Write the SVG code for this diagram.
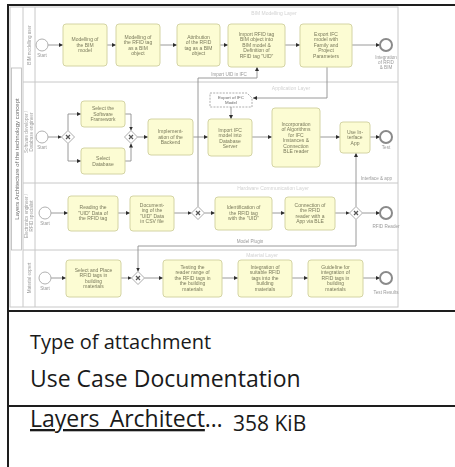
<svg xmlns="http://www.w3.org/2000/svg" width="455" height="467" viewBox="0 0 455 467">
  <style>
    .task { fill: #fcfcd3; stroke: #d4d4a4; stroke-width: 1; }
    .tt { font-family: "Liberation Sans", Arial, sans-serif; font-size: 5px; fill: #7a7a5c; text-anchor: middle; }
    .lbl { font-family: "Liberation Sans", Arial, sans-serif; font-size: 4.6px; fill: #9a9a9a; text-anchor: middle; }
    .ttl { font-family: "Liberation Sans", Arial, sans-serif; font-size: 5px; fill: #d2d2d2; text-anchor: middle; }
    .lane { stroke: #c8c8c8; stroke-width: 1; fill: none; }
    .flow { fill: none; stroke: #8e8e8e; stroke-width: 0.9; marker-end: url(#arr); }
    .start { fill: #fff; stroke: #a8a8a8; stroke-width: 0.9; }
    .end { fill: #fff; stroke: #8a8a8a; stroke-width: 2; }
    .gw { fill: #fff; stroke: #a0a0a0; stroke-width: 0.9; }
    .gwx { stroke: #555; stroke-width: 1.2; }
    .card { stroke: #1e1e1e; stroke-width: 2; fill: none; }
    .cap { font-family: "Open Sans", "Noto Sans", "DejaVu Sans", sans-serif; fill: #1a1a1a; }
  </style>
  <defs>
    <marker id="arr" viewBox="0 0 6 6" refX="6" refY="3" markerWidth="4" markerHeight="4" orient="auto" markerUnits="userSpaceOnUse">
      <path d="M0,0 L6,3 L0,6 Z" fill="#2e2e2e"/>
    </marker>
    <filter id="soft" x="-2%" y="-2%" width="104%" height="104%">
      <feGaussianBlur stdDeviation="0.75"/>
    </filter>
  </defs>

  <rect width="455" height="467" fill="#fff"/>

  <!-- BPMN process thumbnail -->
  <g id="process" filter="url(#soft)">
    <rect x="9" y="6" width="392" height="305" fill="#fff"/>
    <!-- pool and lanes -->
    <g id="pool">
      <rect class="lane" x="10" y="7" width="388" height="300"/>
      <line class="lane" x1="23" y1="7" x2="23" y2="307"/>
      <line class="lane" x1="35" y1="7" x2="35" y2="307"/>
      <line class="lane" x1="23" y1="82" x2="398" y2="82"/>
      <line class="lane" x1="23" y1="183" x2="398" y2="183"/>
      <line class="lane" x1="23" y1="250" x2="398" y2="250"/>
      <rect x="11.5" y="68" width="10" height="182" fill="none" stroke="#b8b8b8" stroke-width="0.8"/>
      <text class="tt" style="font-size:6px;fill:#6a6a6a" transform="translate(18.5 159) rotate(-90)">Layers Architecture of the technology concept</text>
      <text class="lbl" transform="translate(30.5 45) rotate(-90)">BIM modelling user</text>
      <text class="lbl" transform="translate(28 132) rotate(-90)"><tspan x="0" y="0">Software developer /</tspan><tspan x="0" y="5">Database engineer</tspan></text>
      <text class="lbl" transform="translate(28 216) rotate(-90)"><tspan x="0" y="0">Electronics engineer /</tspan><tspan x="0" y="5">RFID specialist</tspan></text>
      <text class="lbl" transform="translate(30.5 278) rotate(-90)">Material expert</text>
      <text class="ttl" x="274" y="15">BIM Modelling Layer</text>
      <text class="ttl" x="291" y="90">Application Layer</text>
      <text class="ttl" x="273" y="190">Hardware Communication Layer</text>
      <text class="ttl" x="262" y="257">Material Layer</text>
      <text class="lbl" x="392" y="180" style="text-anchor:end">Interface &amp; app</text>
    </g>

    <!-- connectors -->
    <g id="connectors">
      <path class="flow" d="M48,45 H63"/>
      <path class="flow" d="M107,45 H116"/>
      <path class="flow" d="M160,45 H177"/>
      <path class="flow" d="M220,45 H228"/>
      <path class="flow" d="M285,45 H300"/>
      <path class="flow" d="M352,45 H380"/>

      <path class="flow" d="M48,137 H61.5"/>
      <path class="flow" d="M68,130.5 V114 H81"/>
      <path class="flow" d="M68,143.5 V161 H81"/>
      <path class="flow" d="M125,114 H131 V130.5"/>
      <path class="flow" d="M125,161 H131 V143.5"/>
      <path class="flow" d="M137.5,137 H148"/>
      <path class="flow" d="M193,137 H208"/>
      <path class="flow" d="M252,137 H272"/>
      <path class="flow" d="M320,137 H340"/>
      <path class="flow" d="M370,137 H380"/>

      <path class="flow" d="M327,67 V98 H253"/>
      <path class="flow" d="M231,107 V119"/>

      <path class="flow" d="M51,213 H68"/>
      <path class="flow" d="M118,213 H130"/>
      <path class="flow" d="M174,213 H191.5"/>
      <path class="flow" d="M204.5,213 H215"/>
      <path class="flow" d="M272,213 H285"/>
      <path class="flow" d="M335,213 H349.5"/>
      <path class="flow" d="M362.5,213 H380"/>
      <path class="flow" d="M356,206.5 V153"/>
      <path class="flow" d="M198,206.5 V78 H257 V67"/>
      <path class="flow" d="M356,219.5 V246 H138 V271.5"/>

      <path class="flow" d="M51,278 H66"/>
      <path class="flow" d="M121,278 H131.5"/>
      <path class="flow" d="M144.5,278 H163"/>
      <path class="flow" d="M222,278 H238"/>
      <path class="flow" d="M292,278 H308"/>
      <path class="flow" d="M363,278 H380"/>

      <text class="lbl" x="229" y="76">Import UID in IFC</text>
      <text class="lbl" x="250" y="243">Model Plugin</text>
    </g>

    <!-- lane 1 -->
    <g id="start1"><circle class="start" cx="42" cy="45" r="6"/><text class="lbl" x="42" y="57">Start</text></g>
    <g id="t1"><rect class="task" x="63" y="24" width="44" height="42" rx="3"/>
      <text class="tt"><tspan x="85" y="41.3">Modelling of</tspan><tspan x="85" y="46.8">the BIM</tspan><tspan x="85" y="52.3">model</tspan></text></g>
    <g id="t2"><rect class="task" x="116" y="24" width="44" height="42" rx="3"/>
      <text class="tt"><tspan x="138" y="38.5">Modelling of</tspan><tspan x="138" y="44">the RFID tag</tspan><tspan x="138" y="49.5">as a BIM</tspan><tspan x="138" y="55">object</tspan></text></g>
    <g id="t3"><rect class="task" x="177" y="24" width="43" height="42" rx="3"/>
      <text class="tt"><tspan x="198.5" y="38.5">Attribution</tspan><tspan x="198.5" y="44">of the RFID</tspan><tspan x="198.5" y="49.5">tag as a BIM</tspan><tspan x="198.5" y="55">object</tspan></text></g>
    <g id="t4"><rect class="task" x="228" y="24" width="57" height="43" rx="3"/>
      <text class="tt"><tspan x="256.5" y="35.8">Import RFID tag</tspan><tspan x="256.5" y="41.3">BIM object into</tspan><tspan x="256.5" y="46.8">BIM model &amp;</tspan><tspan x="256.5" y="52.3">Definition of</tspan><tspan x="256.5" y="57.8">RFID tag "UID"</tspan></text></g>
    <g id="t5"><rect class="task" x="300" y="24" width="52" height="43" rx="3"/>
      <text class="tt"><tspan x="326" y="35.8">Export IFC</tspan><tspan x="326" y="41.3">model with</tspan><tspan x="326" y="46.8">Family and</tspan><tspan x="326" y="52.3">Project</tspan><tspan x="326" y="57.8">Parameters</tspan></text></g>
    <g id="end1"><circle class="end" cx="386" cy="45" r="6"/>
      <text class="lbl"><tspan x="386" y="59">Integration</tspan><tspan x="386" y="64">of RFID</tspan><tspan x="386" y="69">&amp; BIM</tspan></text></g>

    <!-- lane 2 -->
    <g id="start2"><circle class="start" cx="42" cy="137" r="6"/><text class="lbl" x="42" y="149">Start</text></g>
    <g id="gw1"><path class="gw" d="M68,130.5 L74.5,137 L68,143.5 L61.5,137 Z"/><path class="gwx" d="M66,135 L70,139 M70,135 L66,139"/></g>
    <g id="t6"><rect class="task" x="81" y="101" width="44" height="26" rx="3"/>
      <text class="tt"><tspan x="103" y="110.3">Select the</tspan><tspan x="103" y="115.8">Software</tspan><tspan x="103" y="121.3">Framework</tspan></text></g>
    <g id="t7"><rect class="task" x="81" y="148" width="44" height="26" rx="3"/>
      <text class="tt"><tspan x="103" y="160">Select</tspan><tspan x="103" y="165.5">Database</tspan></text></g>
    <g id="gw2"><path class="gw" d="M131,130.5 L137.5,137 L131,143.5 L124.5,137 Z"/><path class="gwx" d="M129,135 L133,139 M133,135 L129,139"/></g>
    <g id="t8"><rect class="task" x="148" y="119" width="45" height="36" rx="3"/>
      <text class="tt"><tspan x="170.5" y="133.3">Implement-</tspan><tspan x="170.5" y="138.8">ation of the</tspan><tspan x="170.5" y="144.3">Backend</tspan></text></g>
    <g id="data1"><path d="M210,93 H247 L252,98 V107 H210 Z" fill="#fff" stroke="#9a9a9a" stroke-width="0.8" stroke-dasharray="2 1.2"/>
      <text class="tt" style="fill:#6a6a6a;font-size:4.4px"><tspan x="231" y="99">Export of IFC</tspan><tspan x="231" y="104">Model</tspan></text></g>
    <g id="t9"><rect class="task" x="208" y="119" width="44" height="37" rx="3"/>
      <text class="tt"><tspan x="230" y="131.5">Import IFC</tspan><tspan x="230" y="137">model into</tspan><tspan x="230" y="142.5">Database</tspan><tspan x="230" y="148">Server</tspan></text></g>
    <g id="t10"><rect class="task" x="272" y="108" width="48" height="59" rx="3"/>
      <text class="tt"><tspan x="296" y="125.5">Incorporation</tspan><tspan x="296" y="131">of Algorithms</tspan><tspan x="296" y="136.5">for IFC</tspan><tspan x="296" y="142">Instances &amp;</tspan><tspan x="296" y="147.5">Connection</tspan><tspan x="296" y="153">BLE reader</tspan></text></g>
    <g id="t11"><rect class="task" x="340" y="122" width="30" height="31" rx="3"/>
      <text class="tt"><tspan x="355" y="133.8">Use In-</tspan><tspan x="355" y="139.3">terface</tspan><tspan x="355" y="144.8">App</tspan></text></g>
    <g id="end2"><circle class="end" cx="386" cy="137" r="6"/><text class="lbl" x="386" y="149">Test</text></g>

    <!-- lane 3 -->
    <g id="start3"><circle class="start" cx="45" cy="213" r="6"/><text class="lbl" x="45" y="225">Start</text></g>
    <g id="t12"><rect class="task" x="68" y="196" width="50" height="35" rx="3"/>
      <text class="tt"><tspan x="93" y="209.3">Reading the</tspan><tspan x="93" y="214.8">"UID" Data of</tspan><tspan x="93" y="220.3">the RFID tag</tspan></text></g>
    <g id="t13"><rect class="task" x="130" y="196" width="44" height="35" rx="3"/>
      <text class="tt"><tspan x="152" y="206.5">Document-</tspan><tspan x="152" y="212">ing of the</tspan><tspan x="152" y="217.5">"UID" Data</tspan><tspan x="152" y="223">in CSV file</tspan></text></g>
    <g id="gw3"><path class="gw" d="M198,206.5 L204.5,213 L198,219.5 L191.5,213 Z"/><path class="gwx" d="M196,211 L200,215 M200,211 L196,215"/></g>
    <g id="t14"><rect class="task" x="215" y="197" width="57" height="33" rx="3"/>
      <text class="tt"><tspan x="243.5" y="209.3">Identification of</tspan><tspan x="243.5" y="214.8">the RFID tag</tspan><tspan x="243.5" y="220.3">with the "UID"</tspan></text></g>
    <g id="t15"><rect class="task" x="285" y="197" width="50" height="33" rx="3"/>
      <text class="tt"><tspan x="310" y="206.5">Connection of</tspan><tspan x="310" y="212">the RFID</tspan><tspan x="310" y="217.5">reader with a</tspan><tspan x="310" y="223">App via BLE</tspan></text></g>
    <g id="gw4"><path class="gw" d="M356,206.5 L362.5,213 L356,219.5 L349.5,213 Z"/><path class="gwx" d="M354,211 L358,215 M358,211 L354,215"/></g>
    <g id="end3"><circle class="end" cx="386" cy="213" r="6"/><text class="lbl" x="386" y="228">RFID Reader</text></g>

    <!-- lane 4 -->
    <g id="start4"><circle class="start" cx="45" cy="278" r="6"/><text class="lbl" x="45" y="290">Start</text></g>
    <g id="t16"><rect class="task" x="66" y="260" width="55" height="37" rx="3"/>
      <text class="tt"><tspan x="93.5" y="271.5">Select and Place</tspan><tspan x="93.5" y="277">RFID tags in</tspan><tspan x="93.5" y="282.5">building</tspan><tspan x="93.5" y="288">materials</tspan></text></g>
    <g id="gw5"><path class="gw" d="M138,271.5 L144.5,278 L138,284.5 L131.5,278 Z"/><path class="gwx" d="M136,276 L140,280 M140,276 L136,280"/></g>
    <g id="t17"><rect class="task" x="163" y="260" width="59" height="37" rx="3"/>
      <text class="tt"><tspan x="192.5" y="268.8">Testing the</tspan><tspan x="192.5" y="274.3">reader range of</tspan><tspan x="192.5" y="279.8">the RFID tags in</tspan><tspan x="192.5" y="285.3">the building</tspan><tspan x="192.5" y="290.8">materials</tspan></text></g>
    <g id="t18"><rect class="task" x="238" y="260" width="54" height="37" rx="3"/>
      <text class="tt"><tspan x="265" y="268.8">Integration of</tspan><tspan x="265" y="274.3">suitable RFID</tspan><tspan x="265" y="279.8">tags into the</tspan><tspan x="265" y="285.3">building</tspan><tspan x="265" y="290.8">materials</tspan></text></g>
    <g id="t19"><rect class="task" x="308" y="260" width="55" height="37" rx="3"/>
      <text class="tt"><tspan x="335.5" y="268.8">Guideline for</tspan><tspan x="335.5" y="274.3">integration of</tspan><tspan x="335.5" y="279.8">RFID tags in</tspan><tspan x="335.5" y="285.3">building</tspan><tspan x="335.5" y="290.8">materials</tspan></text></g>
    <g id="end4"><circle class="end" cx="386" cy="278" r="6"/><text class="lbl" x="386" y="294">Test Results</text></g>
  </g>

  <!-- attachment card frame -->
  <g id="card">
    <line class="card" x1="8" y1="5" x2="455" y2="5"/>
    <line class="card" x1="8" y1="4" x2="8" y2="467"/>
    <line class="card" x1="8" y1="311" x2="455" y2="311"/>
    <line class="card" x1="8" y1="406" x2="455" y2="406"/>
  </g>

  <g id="attachment-info">
    <text class="cap" x="30" y="349" font-size="20">Type of attachment</text>
    <text class="cap" x="30" y="387" font-size="23">Use Case Documentation</text>
    <text class="cap" x="30" y="427" font-size="23"><tspan text-decoration="underline">Layers_Architect</tspan>…</text>
    <text class="cap" x="233" y="431" font-size="21">358 KiB</text>
  </g>
</svg>
